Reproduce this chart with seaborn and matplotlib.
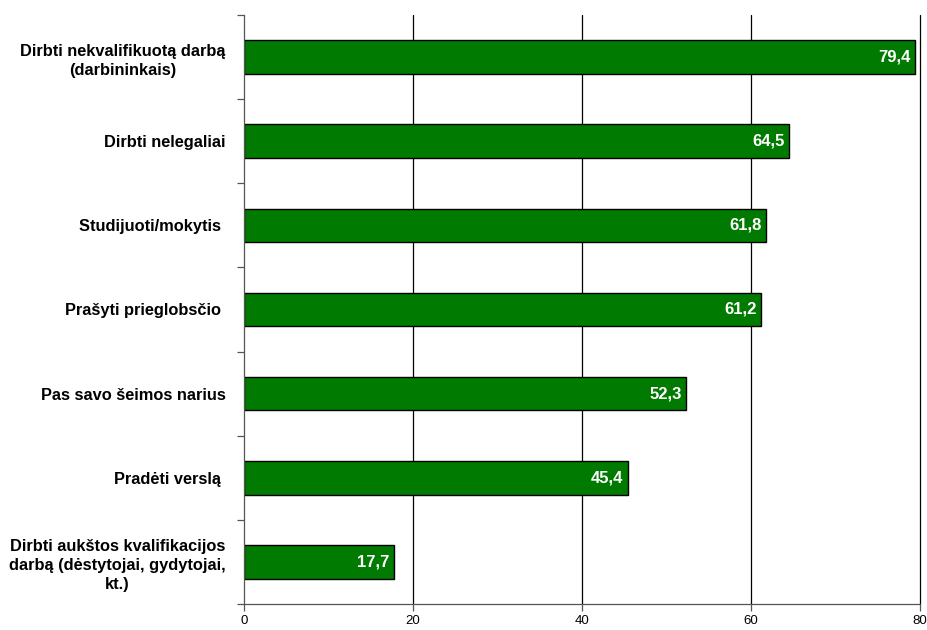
import matplotlib
matplotlib.use("Agg")
import matplotlib.pyplot as plt
import seaborn as sns
import pandas as pd

categories = [
    "Dirbti nekvalifikuotą darbą\n(darbininkais)",
    "Dirbti nelegaliai",
    "Studijuoti/mokytis ",
    "Prašyti prieglobsčio ",
    "Pas savo šeimos narius",
    "Pradėti verslą ",
    "Dirbti aukštos kvalifikacijos\ndarbą (dėstytojai, gydytojai,\nkt.)",
]
values = [79.4, 64.5, 61.8, 61.2, 52.3, 45.4, 17.7]
value_labels = ["79,4", "64,5", "61,8", "61,2", "52,3", "45,4", "17,7"]
x_ticks = [0, 20, 40, 60, 80]

df = pd.DataFrame({"cat": categories, "val": values})

sns.set_style("white")
plt.rcParams["font.family"] = ["Liberation Sans", "DejaVu Sans"]

fig = plt.figure(figsize=(9.27, 6.3), dpi=100)
ax = fig.add_axes([0.2632, 0.0413, 0.7293, 0.9349])

sns.barplot(data=df, x="val", y="cat", orient="h", color="#007a00",
            saturation=1, width=0.4, edgecolor="black", linewidth=1, ax=ax)

ax.set_xlim(0, 80)
ax.set_ylim(len(categories) - 0.5, -0.5)
ax.set_xticks(x_ticks)
ax.set_xticklabels([str(t) for t in x_ticks], fontsize=9.5, color="black")
ax.set_xlabel("")
ax.set_ylabel("")

# gridlines
for t in x_ticks[1:]:
    ax.axvline(t, color="black", lw=0.9, zorder=0, clip_on=False)

# y tick marks between categories
ax.set_yticks([i - 0.5 for i in range(len(categories) + 1)], minor=True)
ax.tick_params(axis="y", which="minor", left=True, length=5, width=0.9,
               color="#555555", direction="out")
ax.tick_params(axis="y", which="major", left=False, length=0, pad=13)
ax.tick_params(axis="x", which="major", bottom=True, length=5, width=0.9,
               color="#555555", direction="out", pad=3)
ax.set_yticklabels(categories, fontsize=11.8, fontweight="bold",
                   multialignment="center", color="black")
for lbl in ax.get_yticklabels():
    lbl.set_linespacing(1.35)

for s in ["top", "right"]:
    ax.spines[s].set_visible(False)
for s in ["left", "bottom"]:
    ax.spines[s].set_color("#555555")
    ax.spines[s].set_linewidth(0.9)

for i, (v, lab) in enumerate(zip(values, value_labels)):
    ax.text(v - 0.5, i, lab, color="white", fontsize=12, fontweight="bold",
            ha="right", va="center")

fig.savefig("out.png", dpi=100)
